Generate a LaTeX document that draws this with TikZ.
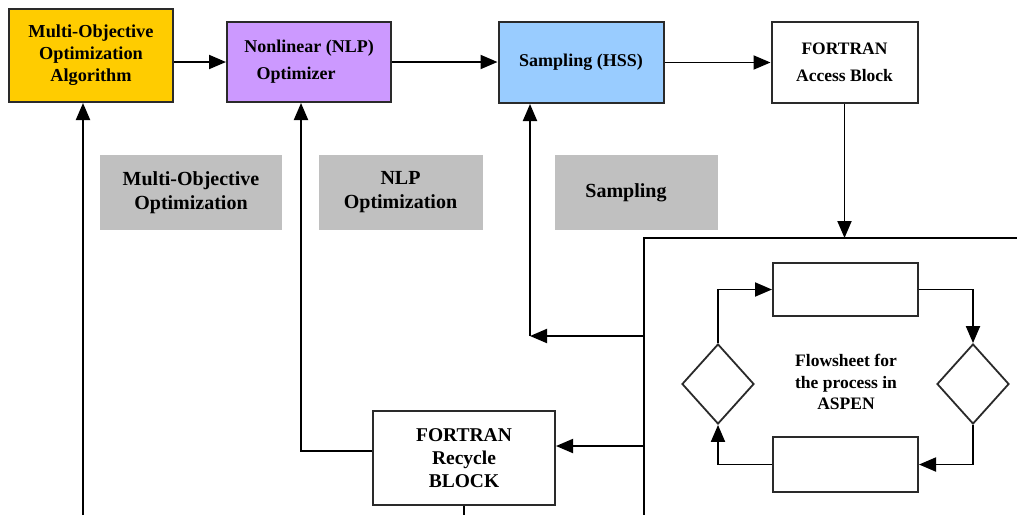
\documentclass[tikz,border=0pt]{standalone}
\usepackage{fontspec}
\setmainfont{Liberation Serif}
\usetikzlibrary{arrows.meta,shapes.geometric,calc}
\definecolor{moogold}{HTML}{FFCC00}
\definecolor{nlppurple}{HTML}{CC99FF}
\definecolor{hssblue}{HTML}{99CCFF}
\definecolor{graybox}{HTML}{C0C0C0}
\definecolor{edge}{HTML}{2A2A2A}
\begin{document}
\begin{tikzpicture}[x=1pt,y=-1pt,
  box/.style={draw=edge,line width=2pt,rectangle,align=center,inner sep=0pt,font=\bfseries\fontsize{17.5}{27}\selectfont},
  graylabel/.style={fill=graybox,draw=none,rectangle,align=center,inner sep=0pt,font=\bfseries\fontsize{20}{24}\selectfont},
  dia/.style={draw=edge,line width=1.8pt,diamond,inner sep=0pt,minimum width=72pt,minimum height=80pt,aspect=0.9},
  arr/.style={draw=black,line width=1.9pt,-{Triangle[length=17pt,width=14pt]}},
  ln/.style={draw=black,line width=1.9pt}]
\useasboundingbox (0,0) rectangle (1017,515);
% top row
\node[box,fill=moogold,minimum width=164pt,minimum height=93pt,font=\bfseries\fontsize{18.3}{22}\selectfont] (moo) at (91,55.5) {Multi-Objective\\Optimization\\Algorithm};
\node[box,fill=nlppurple,minimum width=164pt,minimum height=80pt,font=\bfseries\fontsize{18}{27}\selectfont] (nlp) at (309,62) {Nonlinear (NLP)\\Optimizer\hspace*{26pt}};
\node[box,fill=hssblue,minimum width=165pt,minimum height=81pt,font=\bfseries\fontsize{18}{27}\selectfont] (hss) at (581,62.5) {Sampling (HSS)};
\node[box,fill=white,minimum width=146pt,minimum height=81pt] (acc) at (844.5,62.5) {FORTRAN\\Access Block};
% gray labels
\node[graylabel,minimum width=182pt,minimum height=75pt] (g1) at (191,192.5) {Multi-Objective\\Optimization};
\node[graylabel,minimum width=164pt,minimum height=75pt] (g2) at (400.5,192.5) {NLP\\Optimization};
\node[graylabel,minimum width=163pt,minimum height=75pt] (g3) at (636,192.5) {Sampling\hspace*{20pt}};
% recycle block
\node[box,fill=white,minimum width=182pt,minimum height=94pt,font=\bfseries\fontsize{19.5}{23}\selectfont] (rec) at (464,458) {FORTRAN\\Recycle\\BLOCK};
% flowsheet frame
\coordinate (bt) at (844.5,238);
\draw[ln] (1017,238) -- (644,238) -- (644,515);
% flowsheet contents
\node[box,fill=white,minimum width=145pt,minimum height=53pt] (tr) at (845.5,289.5) {};
\node[box,fill=white,minimum width=145pt,minimum height=55pt] (br) at (845.5,464.5) {};
\node[dia] (ld) at (718,384) {};
\node[dia] (rd) at (973,384) {};
\node[align=center,inner sep=0pt,font=\bfseries\fontsize{17.5}{21.5}\selectfont] (fs) at (846,382) {Flowsheet for\\the process in\\ASPEN};
\draw[arr] (ld.north) |- (tr.west);
\draw[arr] (tr.east) -| (rd.north);
\draw[arr] (rd.south) |- (br.east);
\draw[arr] (br.west) -| (ld.south);
% main connectors
\draw[arr] (moo.east |- nlp.west) -- (nlp.west);
\draw[arr] (nlp.east) -- (nlp.east -| hss.west);
\draw[arr] (hss.east) -- (hss.east -| acc.west);
\draw[arr] (acc.south) -- (bt);
\coordinate (c1) at (644,336);
\coordinate (c2) at (530,336);
\draw[arr] (c1) -- (c2);
\draw[arr] (c2) -- (c2 |- hss.south);
\coordinate (c3) at (644,446);
\draw[arr] (c3) -- (c3 -| rec.east);
\coordinate (c4) at (301,451);
\draw[arr] (c4 -| rec.west) -- (c4) -- (c4 |- nlp.south);
\coordinate (c5) at (83,515);
\draw[arr] (c5) -- (c5 |- moo.south);
\coordinate (c6) at (464,515);
\draw[ln] (rec.south) -- (c6);
\end{tikzpicture}
\end{document}
